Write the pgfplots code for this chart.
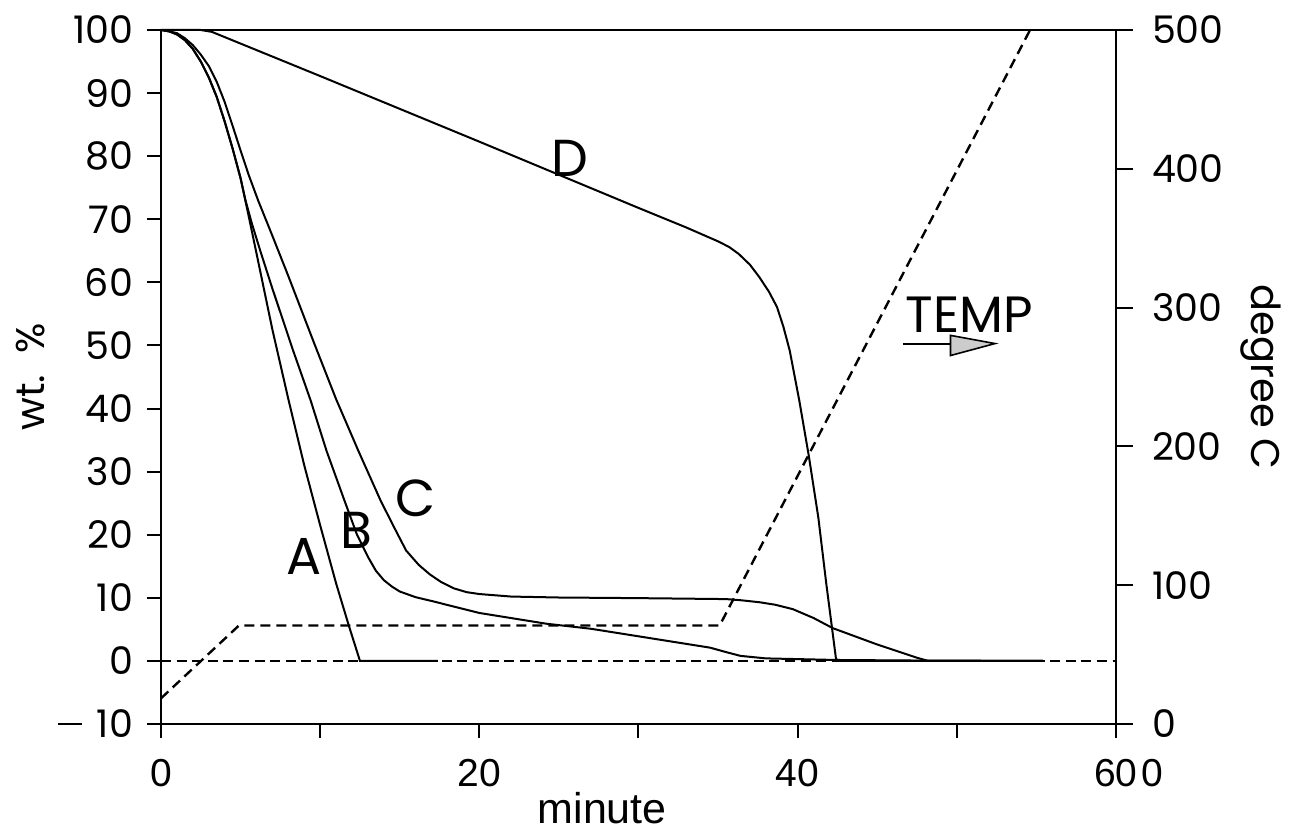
\documentclass[border=0pt]{standalone}
\usepackage{pgfplots}
\pgfplotsset{compat=1.18}
\usepackage{fontspec}
\setmainfont{Liberation Sans}
\newfontfamily\pop{Poppins}

\begin{document}
\begin{tikzpicture}
\begin{axis}[
  at={(0,0)}, anchor=south west,
  scale only axis, width=477.5pt, height=347pt,
  xmin=0, xmax=60, ymin=-10, ymax=100,
  axis line style={line width=1.3pt},
  xtick={0,10,20,30,40,50,60},
  xticklabels={0,,20,,40,,60\rlap{\hspace{0.1em}0}},
  ytick={-10,0,10,20,30,40,50,60,70,80,90,100},
  yticklabels={\rule[0.33em]{0.62em}{0.07em}\hspace{0.4em}10,0,10,20,30,40,50,60,70,80,90,100},
  xtick pos=left, ytick pos=left,
  tick align=outside,
  major tick length=7pt,
  tick style={line width=1pt, black},
  xticklabel shift=7pt,
  yticklabel shift=3.5pt,
  xticklabel style={font=\fontsize{19.5}{19.5}\selectfont},
  yticklabel style={font=\pop\fontsize{19}{19}\selectfont},
  xlabel={minute},
  xlabel style={font=\fontsize{21.5}{21.5}\selectfont, at={(axis description cs:0.462,-0.121)}, anchor=center},
  ylabel={wt.\ \ \%},
  ylabel style={font=\pop\fontsize{20}{20}\selectfont, at={(axis description cs:-0.137,0.5)}, anchor=center},
  clip=false,
]
% zero reference line
\addplot[line width=1.2pt, dash pattern=on 5pt off 2.8pt] coordinates {(0,0) (60,0)};
% A
\addplot[line width=1pt] coordinates {
(0,100)(0.5,99.8)(1,99.3)(1.5,98.4)(2,97)(2.5,95)(3,92.5)(3.5,89.4)(4,85.5)(4.5,81.2)(5,76.5)(5.5,70.6)(6,64.6)(7,52.5)(8,41.5)(9,31)(10,21.5)(11,12.3)(11.8,5.6)(12.5,0)(17.4,0)};
% B
\addplot[line width=1pt] coordinates {
(0,100)(0.5,99.8)(1,99.3)(1.5,98.4)(2,97)(2.5,95)(3,92.5)(3.5,89.4)(4,85.5)(4.5,81.2)(5,76.5)(5.3,73.1)(5.7,69.4)(6.2,65.3)(7,59)(8.3,49.2)(9.4,41.3)(10.4,33.3)(11.5,25.6)(12.3,20.1)(13,16.5)(13.5,14.3)(14,12.8)(14.5,11.8)(15,11)(16,10.1)(17,9.5)(20,7.6)(24.2,5.9)(27,5.1)(30,3.9)(34.5,2.1)(35.5,1.4)(36.4,0.8)(38,0.4)(42.4,0.15)(48,0.05)(55.4,0)};
% C
\addplot[line width=1pt] coordinates {
(0,100)(0.5,99.8)(1,99.5)(1.5,98.7)(2,97.6)(2.5,96.1)(3,94.3)(3.5,91.8)(4,88.6)(4.5,84.8)(5,80.9)(5.5,77.1)(6.1,73)(6.9,68)(8,61)(9.6,50.5)(11,41.5)(12.4,33.3)(13.8,25.4)(14.6,21.4)(15.4,17.5)(16.2,15.2)(16.9,13.7)(17.6,12.5)(18.4,11.5)(19.2,10.9)(20,10.6)(22,10.2)(25,10.05)(30,9.95)(35.5,9.8)(36.5,9.6)(37.6,9.3)(38.6,8.9)(39.7,8.2)(41,6.8)(42.2,5.2)(45,2.6)(47.5,0.5)(48.2,0)(55.4,0)};
% D
\addplot[line width=1pt] coordinates {
(0,100)(2.5,100)(3.2,99.7)(10,92.7)(20,82.3)(30,71.8)(33,68.7)(34,67.6)(35,66.5)(35.7,65.6)(36.3,64.5)(37,62.8)(37.6,60.8)(38.2,58.5)(38.7,56.1)(39.1,53)(39.5,49.2)(40.1,41.3)(40.7,32.5)(41.3,22.7)(41.8,12.2)(42.4,0.5)(42.5,0)(55.4,0)};
% curve labels
\node[font=\pop\fontsize{26}{26}\selectfont] at (axis cs:8.98,16.6) {A};
\node[font=\pop\fontsize{26}{26}\selectfont] at (axis cs:12.28,20.7) {B};
\node[font=\pop\fontsize{26}{26}\selectfont] at (axis cs:16.02,25.8) {C};
\node[font=\pop\fontsize{26}{26}\selectfont] at (axis cs:25.7,79.6) {D};
% TEMP label with arrow
\node[font=\pop\fontsize{25.5}{25.5}\selectfont] at (axis cs:50.8,54.8) {TEMP};
\draw[line width=1pt] (axis cs:46.6,50.3) -- (axis cs:50,50.3);
\draw[line width=0.8pt, fill=gray!40] (axis cs:49.6,51.6) -- (axis cs:52.4,50.3) -- (axis cs:49.6,48.4) -- cycle;
\end{axis}
\begin{axis}[
  at={(0,0)}, anchor=south west,
  scale only axis, width=477.5pt, height=347pt,
  xmin=0, xmax=60, ymin=0, ymax=500,
  axis x line=none, axis y line*=right,
  axis line style={line width=1.3pt},
  ytick={0,100,200,300,400,500},
  yticklabels={0,100,200,300,400,500},
  tick align=outside,
  major tick length=8.5pt,
  tick style={line width=1pt, black},
  yticklabel shift=6pt,
  yticklabel style={font=\pop\fontsize{19}{19}\selectfont},
  clip=false,
]
\addplot[line width=1.2pt, dash pattern=on 5pt off 3pt] coordinates {(0,18.5) (4.9,71) (35.1,71) (54.6,500)};
\node[font=\pop\fontsize{20}{20}\selectfont, rotate=-90] at (axis description cs:1.152,0.5) {degree C};
\end{axis}
\pgfresetboundingbox
\useasboundingbox (-80.5pt,-53.5pt) rectangle (566.5pt,362pt);
\end{tikzpicture}
\end{document}
